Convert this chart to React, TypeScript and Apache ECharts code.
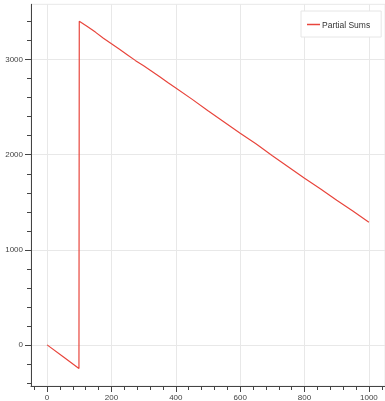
import React, { useEffect, useRef } from "react";
import * as echarts from "echarts";

const xValues = [0, 50, 99, 100, 125, 150, 175, 200, 225, 250, 275, 300, 325, 350, 375, 400, 450, 500, 550, 600, 650, 700, 750, 800, 850, 900, 950, 1000];
const yValues = [0, -125, -248, 3404, 3350, 3290, 3226, 3168, 3110, 3050, 2990, 2935, 2878, 2820, 2760, 2702, 2585, 2462, 2345, 2226, 2112, 1990, 1872, 1752, 1640, 1522, 1408, 1290];
const xTicks = [0, 200, 400, 600, 800, 1000];
const yTicks = [0, 1000, 2000, 3000];
const seriesName = "Partial Sums";

const FONT = "'Liberation Sans', Arial, Helvetica, sans-serif";
const AXIS_COLOR = "#444";
const GRID_COLOR = "#e8e8e8";
const LINE_COLOR = "#e8453c";

export default function App() {
  const ref = useRef<HTMLDivElement>(null);
  useEffect(() => {
    document.body.style.margin = "0";
    if (!ref.current) return;
    const chart = echarts.init(ref.current, null, { renderer: "svg" });
    const data = xValues.map((x, i) => [x, yValues[i]]);
    chart.setOption({
      animation: false,
      textStyle: { fontFamily: FONT },
      grid: {
        left: 31,
        top: 4.3,
        right: -2,
        bottom: 14.1,
        show: true,
        borderColor: GRID_COLOR,
        borderWidth: 1,
        containLabel: false,
      },
      legend: {
        left: 301,
        top: 11,
        padding: [9, 11, 8, 6],
        borderColor: "#e6e6e6",
        borderWidth: 1,
        backgroundColor: "#fff",
        icon: "rect",
        itemWidth: 13,
        itemHeight: 1.5,
        itemGap: 4,
        textStyle: { fontSize: 8.5, color: "#333", fontFamily: FONT, padding: [0, 0, 0, -3] },
        data: [{ name: seriesName, icon: "rect" }],
      },
      xAxis: {
        type: "value",
        min: -50,
        max: 1050,
        splitNumber: 5,
        axisLine: { show: true, onZero: false, lineStyle: { color: AXIS_COLOR, width: 1 } },
        axisTick: { show: true, length: 6, customValues: xTicks, lineStyle: { color: AXIS_COLOR } },
        minorTick: { show: true, splitNumber: 5, length: 4, lineStyle: { color: AXIS_COLOR } },
        axisLabel: {
          customValues: xTicks,
          fontSize: 8,
          color: AXIS_COLOR,
          margin: 7,
          fontFamily: FONT,
          formatter: (v: number) => String(v),
        },
        splitLine: { show: true, lineStyle: { color: GRID_COLOR, width: 1 } },
      },
      yAxis: {
        type: "value",
        min: -432.5,
        max: 3582.5,
        splitNumber: 5,
        axisLine: { show: true, onZero: false, lineStyle: { color: AXIS_COLOR, width: 1 } },
        axisTick: { show: true, length: 6, customValues: yTicks, lineStyle: { color: AXIS_COLOR } },
        minorTick: { show: true, splitNumber: 5, length: 4, lineStyle: { color: AXIS_COLOR } },
        axisLabel: {
          customValues: yTicks,
          fontSize: 8,
          color: AXIS_COLOR,
          margin: 8,
          fontFamily: FONT,
          formatter: (v: number) => String(v),
        },
        splitLine: { show: true, lineStyle: { color: GRID_COLOR, width: 1 } },
      },
      series: [
        {
          name: seriesName,
          type: "line",
          data,
          symbol: "none",
          showSymbol: false,
          lineStyle: { color: LINE_COLOR, width: 1.2 },
          itemStyle: { color: LINE_COLOR },
        },
      ],
    });
    return () => chart.dispose();
  }, []);
  return <div ref={ref} style={{ position: "fixed", left: 0, top: 0, width: 385, height: 401 }} />;
}
